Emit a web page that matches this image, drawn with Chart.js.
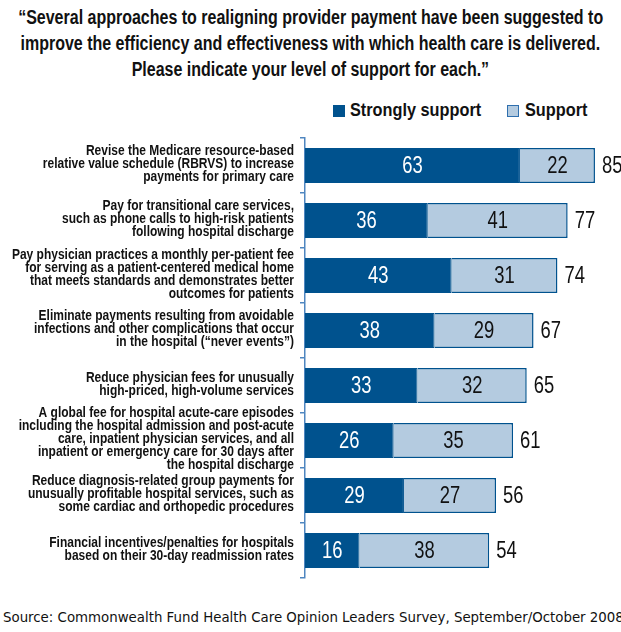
<!DOCTYPE html>
<html>
<head>
<meta charset="utf-8">
<script src="https://cdn.jsdelivr.net/npm/chart.js@4.4.1/dist/chart.umd.min.js"></script>
<style>
  body { margin: 0; width: 621px; height: 632px; background: #fff; position: relative; overflow: hidden;
         font-family: "Liberation Sans", Arial, sans-serif; color: #111; }
  /* narrow look: regular faces squeezed horizontally */
  .narrow { display: inline-block; transform: scaleX(0.8); white-space: nowrap; }
  #title { position: absolute; top: 4px; left: -190px; width: 1001px; text-align: center;
           font-weight: bold; font-size: 20px; line-height: 26px; }
  #title .narrow { transform-origin: 50% 50%; }
  .lg { position: absolute; top: 99px; font-weight: bold; font-size: 18.5px; line-height: 22px; white-space: nowrap; }
  .lg .box { position: absolute; left: 0; top: 6px; width: 12px; height: 12px; box-sizing: border-box; }
  .lg .narrow { position: absolute; left: 17px; top: 0; transform: scaleX(0.88); transform-origin: 0 50%; }
  #wrap { position: absolute; top: 130px; left: 0; width: 621px; height: 452px; }
  #source { position: absolute; top: 610px; left: 3px; font-family: "DejaVu Sans", sans-serif; font-size: 13.35px; white-space: nowrap; }
</style>
</head>
<body>
<div id="title">
  <span class="narrow">“Several approaches to realigning provider payment have been suggested to</span><br>
  <span class="narrow">improve the efficiency and effectiveness with which health care is delivered.</span><br>
  <span class="narrow">Please indicate your level of support for each.”</span>
</div>
<div class="lg" style="left:333px"><span class="box" style="background:#00528e"></span><span class="narrow">Strongly support</span></div>
<div class="lg" style="left:507px"><span class="box" style="background:#b4cbe0;border:1.5px solid #2f6fae"></span><span class="narrow" style="left:18px">Support</span></div>
<div id="wrap"><canvas id="chart"></canvas></div>
<div id="source">Source: Commonwealth Fund Health Care Opinion Leaders Survey, September/October 2008</div>

<script>
// survey items, top to bottom
const categories = [
  ["Revise the Medicare resource-based", "relative value schedule (RBRVS) to increase", "payments for primary care"],
  ["Pay for transitional care services,", "such as phone calls to high-risk patients", "following hospital discharge"],
  ["Pay physician practices a monthly per-patient fee", "for serving as a patient-centered medical home", "that meets standards and demonstrates better", "outcomes for patients"],
  ["Eliminate payments resulting from avoidable", "infections and other complications that occur", "in the hospital (“never events”)"],
  ["Reduce physician fees for unusually", "high-priced, high-volume services"],
  ["A global fee for hospital acute-care episodes", "including the hospital admission and post-acute", "care, inpatient physician services, and all", "inpatient or emergency care for 30 days after", "the hospital discharge"],
  ["Reduce diagnosis-related group payments for", "unusually profitable hospital services, such as", "some cardiac and orthopedic procedures"],
  ["Financial incentives/penalties for hospitals", "based on their 30-day readmission rates"]
];
const stronglySupport = [63, 36, 43, 38, 33, 26, 29, 16];
const support = [22, 41, 31, 29, 32, 35, 27, 38];

const DARK = '#00528e';
const LIGHT = '#b4cbe0';
const AXIS = '#4f86c0';
const FAMILY = '"Liberation Sans", Arial, sans-serif';
const SQUEEZE = 0.8;

function narrowText(ctx, text, x, y) {
  ctx.save();
  ctx.translate(x, y);
  ctx.scale(SQUEEZE, 1);
  ctx.fillText(text, 0, 0);
  ctx.restore();
}

// category names to the left of the axis, centred on each category
const categoryLabels = {
  id: 'categoryLabels',
  afterDraw(chart) {
    const ctx = chart.ctx;
    const yScale = chart.scales.y;
    const lineH = 13;
    ctx.save();
    ctx.font = 'bold 15px ' + FAMILY;
    ctx.fillStyle = '#111';
    ctx.textAlign = 'right';
    ctx.textBaseline = 'middle';
    categories.forEach((lines, i) => {
      const yc = yScale.getPixelForValue(i) - 1.5;
      const y0 = yc - (lines.length - 1) * lineH / 2;
      lines.forEach((line, k) => narrowText(ctx, line, yScale.right - 11, y0 + k * lineH));
    });
    ctx.restore();
  }
};

// numbers inside each segment plus the total at the end of each bar
const barLabels = {
  id: 'barLabels',
  afterDatasetsDraw(chart) {
    const ctx = chart.ctx;
    ctx.save();
    ctx.font = '23px ' + FAMILY;
    ctx.textBaseline = 'middle';
    chart.data.datasets.forEach((ds, di) => {
      chart.getDatasetMeta(di).data.forEach((bar, i) => {
        const p = bar.getProps(['x', 'y', 'base'], true);
        ctx.fillStyle = di === 0 ? '#fff' : '#111';
        ctx.textAlign = 'center';
        narrowText(ctx, ds.data[i], (p.x + p.base) / 2, p.y + 1);
      });
    });
    chart.getDatasetMeta(1).data.forEach((bar, i) => {
      const p = bar.getProps(['x', 'y'], true);
      ctx.fillStyle = '#111';
      ctx.textAlign = 'left';
      narrowText(ctx, stronglySupport[i] + support[i], p.x + 7, p.y + 1);
    });
    ctx.restore();
  }
};

new Chart(document.getElementById('chart'), {
  type: 'bar',
  data: {
    labels: categories.map(c => c.join(' ')),
    datasets: [
      { label: 'Strongly support', data: stronglySupport, backgroundColor: DARK, borderColor: DARK, borderWidth: 1 },
      { label: 'Support', data: support, backgroundColor: LIGHT, borderColor: DARK, borderWidth: 1.5, borderSkipped: 'start' }
    ]
  },
  options: {
    indexAxis: 'y',
    responsive: true,
    maintainAspectRatio: false,
    animation: false,
    datasets: { bar: { barPercentage: 1, categoryPercentage: 0.64 } },
    layout: { padding: { top: 8, bottom: 4, left: 0, right: 9 } },
    scales: {
      x: { stacked: true, min: 0, max: 90, display: false },
      y: {
        stacked: true,
        afterFit(scale) { scale.width = 305; },
        grid: { drawOnChartArea: false, drawTicks: true, tickLength: 5, color: AXIS, lineWidth: 1.5, offset: true },
        border: { display: true, color: AXIS, width: 1.5 },
        ticks: { display: false }
      }
    },
    plugins: { legend: { display: false }, tooltip: { enabled: false } }
  },
  plugins: [barLabels, categoryLabels]
});
</script>
</body>
</html>
